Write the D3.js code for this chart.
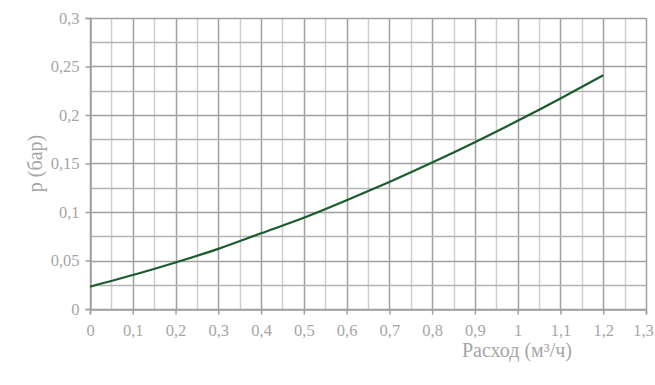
<!DOCTYPE html>
<html lang="ru">
<head>
    <meta charset="UTF-8">
    <title>Расход / давление</title>
    <script src="https://d3js.org/d3.v7.min.js"></script>
    <style>
        body {
            margin: 0;
            background: #fff;
        }
        svg, svg text {
            font-family: "Liberation Serif", "DejaVu Serif", serif;
        }
        .tick-label {
            font-size: 16.5px;
            fill: #a6a6a6;
        }
        .axis-title {
            font-size: 20px;
            fill: #a6a6a6;
        }
    </style>
</head>
<body>
    <div id="chart"></div>
    <script>
        // расход, м3/ч
        const flow = [0, 0.1, 0.2, 0.3, 0.4, 0.5, 0.6, 0.7, 0.8, 0.9, 1.0, 1.1, 1.2];
        // давление, бар
        const pressure = [0.023, 0.035, 0.048, 0.062, 0.078, 0.094, 0.112, 0.131, 0.151, 0.172, 0.194, 0.217, 0.241];

        const xTicks = [0, 0.1, 0.2, 0.3, 0.4, 0.5, 0.6, 0.7, 0.8, 0.9, 1, 1.1, 1.2, 1.3];
        const yTicks = [0, 0.05, 0.1, 0.15, 0.2, 0.25, 0.3];

        const width = 655;
        const height = 385;
        const margin = { top: 18, right: 9, bottom: 76, left: 90 };

        const fmt = v => String(+v.toFixed(3)).replace(".", ",");

        const svg = d3.select("#chart")
            .append("svg")
            .attr("width", width)
            .attr("height", height);

        const x = d3.scaleLinear()
            .domain([0, 1.3])
            .range([margin.left, width - margin.right]);

        const y = d3.scaleLinear()
            .domain([0, 0.3])
            .range([height - margin.bottom, margin.top]);

        // сетка: вертикальные линии через 0,05, горизонтальные через 0,025
        const vLines = d3.range(0, 27).map(i => i * 0.05);
        const hLines = d3.range(0, 13).map(i => i * 0.025);

        svg.append("g")
            .selectAll("line")
            .data(vLines)
            .enter()
            .append("line")
            .attr("x1", d => Math.round(x(d)) + 0.5)
            .attr("x2", d => Math.round(x(d)) + 0.5)
            .attr("y1", y(0))
            .attr("y2", y(0.3))
            .attr("stroke", (d, i) => i % 2 === 0 ? "#a0a0a0" : "#cfcfcf")
            .attr("stroke-width", 1.5);

        svg.append("g")
            .selectAll("line")
            .data(hLines)
            .enter()
            .append("line")
            .attr("x1", x(0))
            .attr("x2", x(1.3))
            .attr("y1", d => Math.round(y(d)) + 0.5)
            .attr("y2", d => Math.round(y(d)) + 0.5)
            .attr("stroke", (d, i) => i % 2 === 0 ? "#a0a0a0" : "#b4b4b4")
            .attr("stroke-width", 1.5);

        // оси
        const xAxis = svg.append("g")
            .attr("transform", `translate(0, ${Math.round(y(0)) + 0.5})`)
            .call(d3.axisBottom(x).tickValues(xTicks).tickSize(5).tickFormat(fmt));

        const yAxis = svg.append("g")
            .attr("transform", `translate(${Math.round(x(0)) + 0.5}, 0)`)
            .call(d3.axisLeft(y).tickValues(yTicks).tickSize(5).tickFormat(fmt));

        [xAxis, yAxis].forEach(ax => {
            ax.attr("font-family", null).attr("font-size", null);
            ax.select(".domain").attr("stroke", "#a0a0a0").attr("stroke-width", 1.5);
            ax.selectAll(".tick line").attr("stroke", "#a0a0a0").attr("stroke-width", 1.5);
            ax.selectAll(".tick text")
                .attr("class", "tick-label")
                .attr("fill", null);
        });
        xAxis.selectAll(".tick text").attr("y", 15).attr("dy", "0.71em");
        // последняя подпись чуть левее, чтобы не обрезалась
        xAxis.selectAll(".tick text").filter(d => d === 1.3).attr("x", -3);
        yAxis.selectAll(".tick text").attr("x", -11);

        // кривая
        const line = d3.line()
            .x((d, i) => x(flow[i]))
            .y(d => y(d))
            .curve(d3.curveNatural);

        svg.append("path")
            .datum(pressure)
            .attr("d", line)
            .attr("fill", "none")
            .attr("stroke", "#1a5c2e")
            .attr("stroke-width", 2.2);

        // подписи осей
        svg.append("text")
            .attr("class", "axis-title")
            .attr("x", 517)
            .attr("y", 357)
            .attr("text-anchor", "middle")
            .text("Расход (м³/ч)");

        svg.append("text")
            .attr("class", "axis-title")
            .attr("transform", `translate(42, ${(y(0) + y(0.3)) / 2}) rotate(-90)`)
            .attr("text-anchor", "middle")
            .text("р (бар)");
    </script>
</body>
</html>
